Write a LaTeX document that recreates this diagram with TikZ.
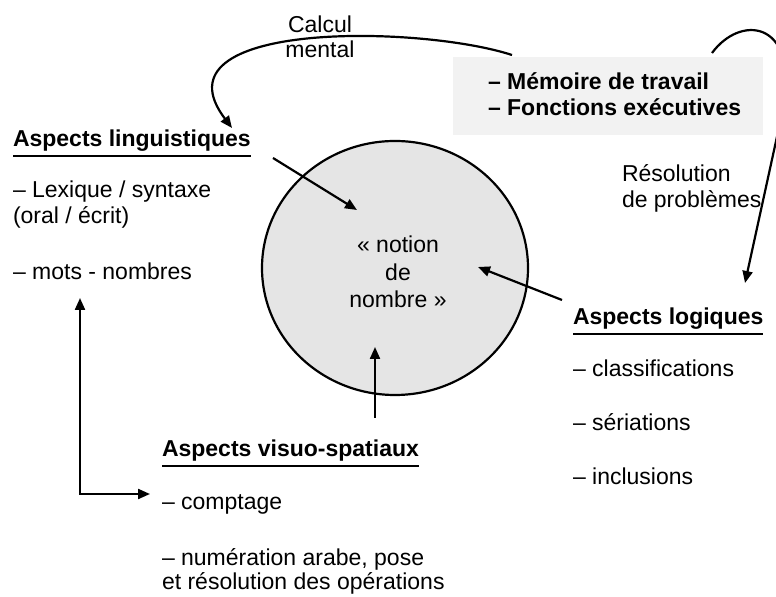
\documentclass[tikz,border=0pt]{standalone}
\usepackage{fontspec}
\setmainfont{Liberation Sans}
\usetikzlibrary{arrows.meta,shapes.geometric}
\newcommand\twol[3]{\vtop{\baselineskip=#1\hbox{#2}\hbox{#3}}}
\newcommand\twoc[3]{\vtop{\baselineskip=#1\halign{\hfil##\hfil\cr#2\cr#3\cr}}}
\newcommand\threec[4]{\vtop{\baselineskip=#1\halign{\hfil##\hfil\cr#2\cr#3\cr#4\cr}}}
\begin{document}
\begin{tikzpicture}[x=0.5pt,y=-0.5pt,
  txt/.style={inner sep=0pt, outer sep=0pt, anchor=base west, font=\fontsize{11.5}{13}\selectfont},
  ttl/.style={txt, font=\fontsize{11.5}{13}\selectfont\bfseries},
  arr/.style={line width=1.1pt, -{Triangle[length=6pt,width=5pt]}},
  arrboth/.style={line width=1.1pt, {Triangle[length=6pt,width=5pt]}-{Triangle[length=6pt,width=5pt]}},
  uline/.style={line width=0.7pt}]
\useasboundingbox (0,0) rectangle (776,597);
\clip (0,0) rectangle (776,597);
% grey box
\node[fill=gray!10, minimum width=155pt, minimum height=39pt, inner sep=0pt, anchor=north west] (box) at (453,57) {};
\node[ttl] (memo) at (488,90) {\twol{13pt}{– Mémoire de travail}{– Fonctions exécutives}};
% circle
\node[ellipse, draw, line width=1.1pt, fill=gray!20, minimum width=133pt, minimum height=127pt, inner sep=0pt] (circ) at (395,268) {};
\node[txt, anchor=base] (notion) at (398,253) {\threec{13.75pt}{« notion}{de}{nombre »}};
% calcul mental
\node[txt, anchor=base] (calc) at (320,33) {\twoc{12.5pt}{Calcul}{mental}};
% linguistiques
\node[ttl] (lingT) at (13,147) {Aspects linguistiques};
\draw[uline] ([yshift=-4.5pt]lingT.base west) -- ([yshift=-4.5pt]lingT.base east);
\node[txt] (lex) at (13,198) {\twol{13pt}{– Lexique / syntaxe}{(oral / écrit)}};
\node[txt] (mots) at (13,280) {– mots - nombres};
% visuo-spatiaux
\node[ttl] (visT) at (162,457) {Aspects visuo-spatiaux};
\draw[uline] ([yshift=-4.5pt]visT.base west) -- ([yshift=-4.5pt]visT.base east);
\node[txt] (compt) at (162,510) {– comptage};
\node[txt] (numer) at (162,566) {\twol{12pt}{– numération arabe, pose}{et résolution des opérations}};
% logiques
\node[ttl] (logT) at (573,325) {Aspects logiques};
\draw[uline] ([yshift=-4.5pt]logT.base west) -- ([yshift=-4.5pt]logT.base east);
\node[txt] (cls) at (573,377) {– classifications};
\node[txt] (ser) at (573,431) {– sériations};
\node[txt] (inc) at (573,485) {– inclusions};
% resolution
\node[txt] (reso) at (622,182) {\twol{13pt}{Résolution}{de problèmes}};
% connectors
\coordinate (cm0) at (512,55);
\coordinate (cm1) at (232,128);
\draw[arr] (cm0) .. controls (420,25) and (150,20) .. (cm1);
\coordinate (rp0) at (712,53);
\coordinate (rp1) at (785,100);
\coordinate (rp2) at (745,283);
\draw[arr] (rp0) .. controls (740,15) and (795,20) .. (rp1) -- (rp2);
\coordinate (a1s) at (273,158);
\coordinate (a1e) at (357,210);
\draw[arr] (a1s) -- (a1e);
\coordinate (a2s) at (562,300);
\coordinate (a2e) at (478,267);
\draw[arr] (a2s) -- (a2e);
\coordinate (a3s) at (375,418);
\coordinate (a3e) at (375,347);
\draw[arr] (a3s) -- (a3e);
\coordinate (lup) at (80,298);
\coordinate (lcorner) at (80,494);
\coordinate (lright) at (150,494);
\draw[arrboth] (lup) -- (lcorner) -- (lright);
\end{tikzpicture}
\end{document}
